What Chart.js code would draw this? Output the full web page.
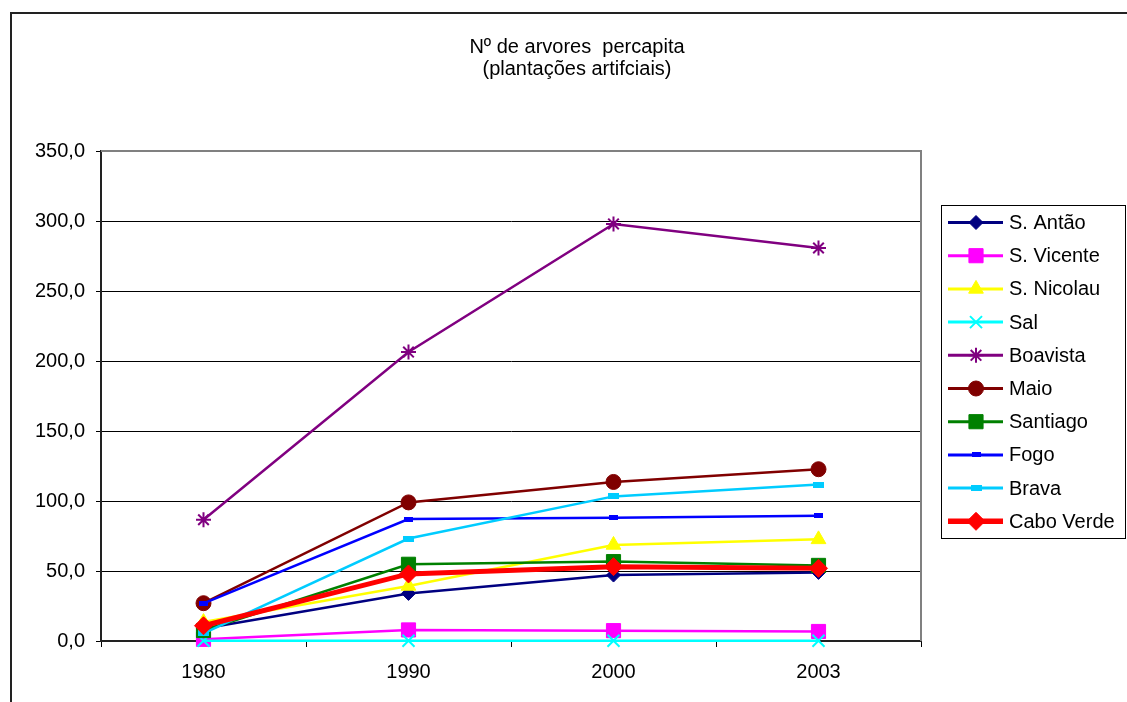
<!DOCTYPE html>
<html lang="pt">
<head>
<meta charset="utf-8">
<title>Nº de arvores percapita</title>
<script src="https://cdn.jsdelivr.net/npm/chart.js@4.4.1/dist/chart.umd.min.js"></script>
<style>
  html, body { margin: 0; padding: 0; background: #fff; }
  canvas { display: block; }
</style>
</head>
<body>
<canvas id="grafico" width="1127" height="702"></canvas>
<script>
// anos do eixo x
const anos = ['1980', '1990', '2000', '2003'];

// arvores por habitante (plantações artificiais) por ilha
const santoAntao = [9.0, 34.0, 47.1, 49.0];
const saoVicente = [1.2, 7.9, 7.4, 6.8];
const saoNicolau = [13.5, 39.3, 68.6, 72.6];
const sal = [0.2, 0.2, 0.2, 0.2];
const boavista = [86.6, 206.4, 297.9, 280.7];
const maio = [27.0, 99.0, 113.6, 122.7];
const santiago = [7.5, 54.8, 56.7, 54.0];
const fogo = [26.9, 87.1, 88.1, 89.5];
const brava = [5.5, 73.2, 103.3, 111.7];
const caboVerde = [10.9, 47.9, 53.1, 51.9];

const yTickLabels = ['0,0', '50,0', '100,0', '150,0', '200,0', '250,0', '300,0', '350,0'];

const FONTE = '"Liberation Sans", Arial, sans-serif';

// marcadores rectangulares achatados (Fogo e Brava)
function marcaRect(w, h, cor) {
    const c = document.createElement('canvas');
    c.width = w;
    c.height = h;
    const g = c.getContext('2d');
    g.fillStyle = cor;
    g.fillRect(0, 0, w, h);
    return c;
}

function serie(label, data, cor, estilo, raio, largura, bordaPonto) {
    return {
        label: label,
        data: data,
        borderColor: cor,
        backgroundColor: cor,
        borderWidth: largura,
        pointStyle: estilo,
        pointRadius: raio,
        pointHoverRadius: raio,
        pointBackgroundColor: cor,
        pointBorderColor: cor,
        pointBorderWidth: bordaPonto,
        tension: 0,
        clip: false
    };
}

const series = [
    serie('S. Antão', santoAntao, '#000080', 'rectRot', 7, 2.5, 1),
    serie('S. Vicente', saoVicente, '#FF00FF', 'rect', 10, 2.5, 1),
    serie('S. Nicolau', saoNicolau, '#FFFF00', 'triangle', 8.5, 2.5, 1),
    serie('Sal', sal, '#00FFFF', 'crossRot', 8.5, 2.5, 2),
    serie('Boavista', boavista, '#800080', 'star', 7.5, 2.5, 2),
    serie('Maio', maio, '#800000', 'circle', 7.5, 2.5, 1),
    serie('Santiago', santiago, '#008000', 'rect', 10, 2.5, 1),
    serie('Fogo', fogo, '#0000FF', marcaRect(9, 5, '#0000FF'), 5, 2.5, 0),
    serie('Brava', brava, '#00CCFF', marcaRect(11, 6, '#00CCFF'), 5, 2.5, 0),
    serie('Cabo Verde', caboVerde, '#FF0000', 'rectRot', 9, 5, 1)
];
// a última série fica por cima
series.forEach((s, i) => { s.order = series.length - 1 - i; });

// moldura exterior e contorno cinzento da área de plotagem
const molduras = {
    id: 'molduras',
    beforeDraw(chart) {
        const ctx = chart.ctx;
        ctx.save();
        ctx.strokeStyle = '#222';
        ctx.lineWidth = 2;
        ctx.beginPath();
        ctx.moveTo(11, chart.height);
        ctx.lineTo(11, 13);
        ctx.lineTo(chart.width, 13);
        ctx.stroke();
        ctx.restore();
    },
    beforeDatasetsDraw(chart) {
        const a = chart.chartArea;
        const ctx = chart.ctx;
        ctx.save();
        ctx.strokeStyle = '#808080';
        ctx.lineWidth = 2;
        ctx.beginPath();
        ctx.moveTo(a.left, a.top);
        ctx.lineTo(a.right, a.top);
        ctx.lineTo(a.right, a.bottom);
        ctx.stroke();
        ctx.restore();
    }
};

// título em duas linhas
const titulo = {
    id: 'titulo',
    afterDraw(chart) {
        const ctx = chart.ctx;
        ctx.save();
        ctx.fillStyle = '#000';
        ctx.font = '20px ' + FONTE;
        ctx.textAlign = 'center';
        ctx.textBaseline = 'alphabetic';
        ctx.fillText('Nº de arvores  percapita', 577, 53);
        ctx.fillText('(plantações artifciais)', 577, 75);
        ctx.restore();
    }
};

// legenda à direita, com linha e marcador de cada série
const legenda = {
    id: 'legenda',
    afterDraw(chart) {
        const ctx = chart.ctx;
        ctx.save();
        ctx.fillStyle = '#fff';
        ctx.fillRect(941.5, 205.5, 184, 333);
        ctx.strokeStyle = '#000';
        ctx.lineWidth = 1;
        ctx.strokeRect(941.5, 205.5, 184, 333);
        chart.data.datasets.forEach((ds, i) => {
            const y = 222.5 + i * 33.2;
            ctx.strokeStyle = ds.borderColor;
            ctx.lineWidth = ds.borderWidth + 0.5;
            ctx.beginPath();
            ctx.moveTo(948, y);
            ctx.lineTo(1003, y);
            ctx.stroke();
            ctx.fillStyle = ds.pointBackgroundColor;
            ctx.strokeStyle = ds.pointBorderColor;
            ctx.lineWidth = ds.pointBorderWidth;
            Chart.helpers.drawPoint(ctx, {
                pointStyle: ds.pointStyle,
                radius: ds.pointRadius,
                rotation: 0,
                borderWidth: ds.pointBorderWidth
            }, 976, y);
            ctx.fillStyle = '#000';
            ctx.font = '20px ' + FONTE;
            ctx.textAlign = 'left';
            ctx.textBaseline = 'middle';
            ctx.fillText(ds.label, 1009, y + 1);
        });
        ctx.restore();
    }
};

Chart.defaults.font.family = FONTE;
Chart.defaults.font.size = 20;
Chart.defaults.color = '#000';

const grafico = new Chart(document.getElementById('grafico').getContext('2d'), {
    type: 'line',
    data: {
        labels: anos,
        datasets: series
    },
    options: {
        responsive: false,
        animation: false,
        layout: {
            padding: { top: 151, right: 206, left: 0, bottom: 0 }
        },
        scales: {
            x: {
                offset: true,
                grid: {
                    offset: true,
                    drawOnChartArea: false,
                    drawTicks: true,
                    tickLength: 6,
                    color: '#000',
                    tickColor: '#000'
                },
                border: { color: '#222', width: 2 },
                ticks: { padding: 13, maxRotation: 0 },
                afterFit(scale) { scale.height = 61; }
            },
            y: {
                min: 0,
                max: 350,
                grid: {
                    color: ctx => (ctx.tick && ctx.tick.value === 350) ? '#808080' : '#000',
                    tickColor: '#000',
                    tickLength: 5,
                    lineWidth: 1
                },
                border: { color: '#222', width: 2 },
                ticks: {
                    stepSize: 50,
                    padding: 11,
                    callback: (v, i) => yTickLabels[i]
                },
                afterFit(scale) { scale.width = 101; }
            }
        },
        plugins: {
            legend: { display: false },
            title: { display: false },
            tooltip: { enabled: false }
        }
    },
    plugins: [molduras, titulo, legenda]
});
</script>
</body>
</html>
